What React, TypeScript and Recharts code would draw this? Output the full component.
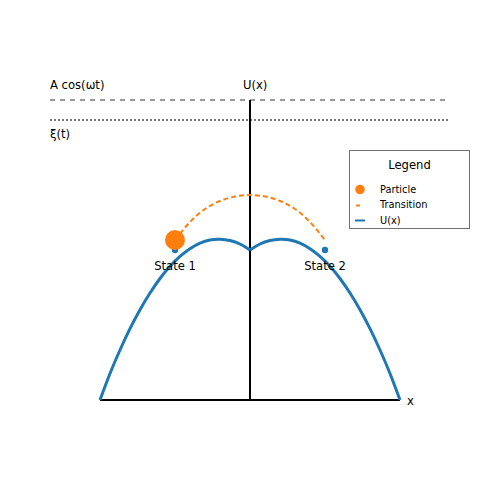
import React from "react";
import {
  ComposedChart,
  Line,
  Scatter,
  XAxis,
  YAxis,
  ReferenceLine,
} from "recharts";

// U(x) potential (left and right halves, cusp at x = 0)
const uLeftX = [-1.5, -1.4, -1.3, -1.2, -1.1, -1.0, -0.9, -0.8, -0.7, -0.6, -0.5, -0.4, -0.3, -0.2, -0.1, 0];
const uLeftY = [0.0, 0.265, 0.5, 0.713, 0.903, 1.07, 1.215, 1.337, 1.436, 1.513, 1.568, 1.6, 1.608, 1.595, 1.56, 1.5];
const uRightX = [0, 0.1, 0.2, 0.3, 0.4, 0.5, 0.6, 0.7, 0.8, 0.9, 1.0, 1.1, 1.2, 1.3, 1.4, 1.5];
const uRightY = [1.5, 1.56, 1.595, 1.608, 1.6, 1.568, 1.513, 1.436, 1.337, 1.215, 1.07, 0.903, 0.713, 0.5, 0.265, 0.0];

// Transition path
const transX = [-0.75, -0.6, -0.45, -0.3, -0.15, 0, 0.15, 0.3, 0.45, 0.6, 0.75];
const transY = [1.6, 1.78, 1.91, 1.99, 2.035, 2.05, 2.035, 1.99, 1.91, 1.78, 1.6];

// States and particle
const stateX = [-0.75, 0.75];
const stateY = [1.5, 1.5];
const particleX = [-0.75];
const particleY = [1.6];

// Annotations
const labelText = ["A cos(ωt)", "U(x)", "ξ(t)", "State 1", "State 2", "x"];
const labelX = [-2.0, -0.07, -2.0, -0.75, 0.75, 1.57];
const labelY = [3.11, 3.11, 2.62, 1.3, 1.3, -0.045];
const labelAnchor = ["start", "start", "start", "middle", "middle", "start"];

const legendTitle = "Legend";
const legendNames = ["Particle", "Transition", "U(x)"];

const BLUE = "#1f77b4";
const ORANGE = "#ff7f0e";
const FONT = "DejaVu Sans, sans-serif";

const uLeft = uLeftX.map((x, i) => ({ x, y: uLeftY[i] }));
const uRight = uRightX.map((x, i) => ({ x, y: uRightY[i] }));
const trans = transX.map((x, i) => ({ x, y: transY[i] }));
const states = stateX.map((x, i) => ({ x, y: stateY[i] }));
const particle = particleX.map((x, i) => ({ x, y: particleY[i] }));
const labels = labelText.map((t, i) => ({ x: labelX[i], y: labelY[i], t, a: labelAnchor[i] }));

const LabelShape = (props: any) => {
  const { cx, cy, payload } = props;
  return (
    <text x={cx} y={cy} textAnchor={payload.a} fontFamily={FONT} fontSize={11.6} fill="#000">
      {payload.t}
    </text>
  );
};

const LegendBox = () => (
  <div
    style={{
      position: "absolute",
      left: 349,
      top: 150,
      width: 119,
      height: 77,
      border: "1px solid #6f6f6f",
      background: "#fff",
      fontFamily: FONT,
      boxSizing: "content-box",
    }}
  >
    <div style={{ position: "absolute", left: 0, width: 119, top: 7, textAlign: "center", fontSize: 11.6, lineHeight: "14px" }}>
      {legendTitle}
    </div>
    {legendNames.map((n, i) => (
      <div key={n} style={{ position: "absolute", left: 30, top: 33 + i * 15.3, fontSize: 9.8, lineHeight: "12px" }}>
        {n}
      </div>
    ))}
    <svg style={{ position: "absolute", left: 0, top: 0 }} width={119} height={77}>
      <circle cx={10} cy={38.5} r={4.8} fill={ORANGE} />
      <line x1={6} x2={10} y1={54.5} y2={54.5} stroke={ORANGE} strokeWidth={2} />
      <line x1={5} x2={15} y1={69.5} y2={69.5} stroke={BLUE} strokeWidth={2} />
    </svg>
  </div>
);

export default function App() {
  return (
    <div style={{ position: "absolute", left: 0, top: 0, width: 500, height: 500, background: "#fff" }}>
      <ComposedChart width={500} height={500} margin={{ top: 0, right: 0, bottom: 0, left: 0 }}>
        <XAxis type="number" dataKey="x" domain={[-2.5, 2.5]} ticks={[-2.5, 0, 2.5]} hide allowDataOverflow />
        <YAxis type="number" dataKey="y" domain={[-1, 4]} ticks={[-1, 0, 1, 2, 3, 4]} hide allowDataOverflow />
        <ReferenceLine
          segment={[{ x: -2.0, y: 3 }, { x: 1.95, y: 3 }]}
          stroke="#7a7a7a"
          strokeWidth={1.7}
          strokeDasharray="5 5"
        />
        <ReferenceLine
          segment={[{ x: -2.0, y: 2.8 }, { x: 1.98, y: 2.8 }]}
          stroke="#7a7a7a"
          strokeWidth={2}
          strokeDasharray="2 2"
        />
        <ReferenceLine segment={[{ x: -1.5, y: 0 }, { x: 1.5, y: 0 }]} stroke="#000" strokeWidth={2} />
        <ReferenceLine segment={[{ x: 0, y: 0 }, { x: 0, y: 3 }]} stroke="#000" strokeWidth={2} />
        <Line data={uLeft} dataKey="y" type="natural" stroke={BLUE} strokeWidth={3} dot={false} isAnimationActive={false} name="U(x)" />
        <Line data={uRight} dataKey="y" type="natural" stroke={BLUE} strokeWidth={3} dot={false} isAnimationActive={false} />
        <Line data={trans} dataKey="y" type="natural" stroke={ORANGE} strokeWidth={2} strokeDasharray="5 3" dot={false} isAnimationActive={false} />
        <Scatter data={states} fill={BLUE} isAnimationActive={false} shape={(p: any) => <circle cx={p.cx} cy={p.cy} r={3.2} fill={BLUE} />} />
        <Scatter data={particle} fill={ORANGE} isAnimationActive={false} shape={(p: any) => <circle cx={p.cx} cy={p.cy} r={10} fill={ORANGE} />} />
        <Scatter data={labels} isAnimationActive={false} shape={LabelShape} />
      </ComposedChart>
      <LegendBox />
    </div>
  );
}
